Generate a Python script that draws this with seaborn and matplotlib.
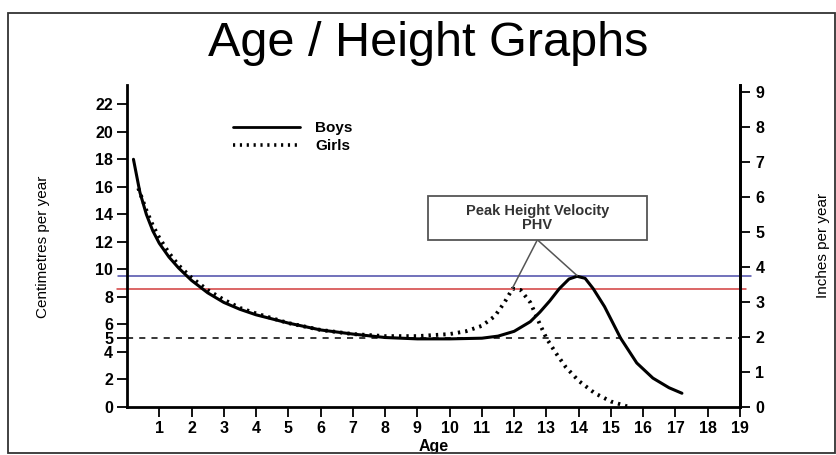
import matplotlib
matplotlib.use("Agg")
import matplotlib.pyplot as plt
import seaborn as sns
import pandas as pd
from matplotlib.patches import Rectangle
from matplotlib.lines import Line2D

# ---- data ----
boys_age = [0.2, 0.4, 0.6, 0.8, 1.0, 1.3, 1.6, 2.0, 2.5, 3.0, 3.5, 4.0, 5.0, 6.0, 7.0, 8.0, 9.0, 10.0,
            11.0, 11.5, 12.0, 12.5, 12.8, 13.1, 13.4, 13.7, 13.95, 14.2, 14.45, 14.8, 15.3, 15.8, 16.3, 16.8, 17.2]
boys_cm = [18.0, 15.6, 14.0, 12.8, 11.9, 10.9, 10.1, 9.2, 8.3, 7.6, 7.1, 6.7, 6.1, 5.6, 5.3, 5.05, 4.95, 4.95,
           5.0, 5.15, 5.5, 6.2, 6.9, 7.7, 8.6, 9.3, 9.5, 9.35, 8.6, 7.3, 5.0, 3.2, 2.1, 1.4, 1.0]
girls_age = [0.35, 0.6, 0.8, 1.0, 1.3, 1.6, 2.0, 2.5, 3.0, 3.5, 4.0, 5.0, 6.0, 7.0, 8.0, 9.0, 10.0, 10.5,
             11.0, 11.4, 11.7, 11.95, 12.2, 12.5, 12.8, 13.0, 13.3, 13.6, 14.0, 14.5, 15.0, 15.5]
girls_cm = [15.9, 14.3, 13.2, 12.3, 11.2, 10.3, 9.4, 8.5, 7.8, 7.2, 6.8, 6.1, 5.6, 5.3, 5.15, 5.15, 5.3, 5.5,
            5.9, 6.6, 7.6, 8.6, 8.5, 7.6, 6.0, 5.0, 3.9, 2.9, 1.9, 1.0, 0.4, 0.05]

boys_peak_line = 9.5    # blue reference line (cm/yr)
girls_peak_line = 8.6   # red reference line (cm/yr)
baseline_cm = 5.0       # dashed reference line (cm/yr)

x_ticks = list(range(1, 20))
y_ticks_cm = [0, 2, 4, 5, 6, 8, 10, 12, 14, 16, 18, 20, 22]
y_ticks_in = list(range(0, 10))

title = "Age / Height Graphs"
x_label = "Age"
y_label_left = "Centimetres per year"
y_label_right = "Inches per year"
annot_text = "Peak Height Velocity\nPHV"

boys_df = pd.DataFrame({"age": boys_age, "cm": boys_cm})
girls_df = pd.DataFrame({"age": girls_age, "cm": girls_cm})

sns.set_style("white")
plt.rcParams["font.family"] = ["Liberation Sans", "DejaVu Sans"]
plt.rcParams["text.color"] = "black"
plt.rcParams["xtick.color"] = "black"
plt.rcParams["ytick.color"] = "black"
plt.rcParams["axes.labelcolor"] = "black"

W, H = 837, 455
fig = plt.figure(figsize=(W / 100, H / 100), dpi=100)
ax = fig.add_axes([127 / W, (H - 407) / H, (740 - 127) / W, (407 - 85) / H])

ymax = 23.4
ax.set_xlim(0, 19)
ax.set_ylim(0, ymax)

# reference lines
ax.plot([-0.28, 19.35], [boys_peak_line] * 2, color="#4a4aa8", lw=1.1, clip_on=False, zorder=2)
ax.plot([-0.3, 19.2], [girls_peak_line] * 2, color="#d23c3c", lw=1.1, clip_on=False, zorder=2)
ax.plot([0, 19], [baseline_cm] * 2, color="black", lw=1.1, ls=(0, (4, 4)), zorder=2)

dotted = (0, (0.6, 1.3))
sns.lineplot(data=boys_df, x="age", y="cm", ax=ax, color="black", lw=2.2, sort=False, zorder=3)
sns.lineplot(data=girls_df, x="age", y="cm", ax=ax, color="black", lw=2.8, ls=dotted,
             sort=False, zorder=3)

# spines
ax.spines["top"].set_visible(False)
for s in ["left", "right", "bottom"]:
    ax.spines[s].set_linewidth(2.0)
    ax.spines[s].set_color("black")

tick_font = {"fontsize": 11.5, "fontweight": "bold"}
ax.set_xticks(x_ticks)
ax.set_xticklabels([str(t) for t in x_ticks], **tick_font)
ax.set_yticks(y_ticks_cm)
ax.set_yticklabels([str(t) for t in y_ticks_cm], **tick_font)
ax.tick_params(axis="both", direction="out", length=7, width=1.3, color="black", pad=3,
               bottom=True, left=True)
ax.set_xlabel(x_label, fontsize=11.5, fontweight="bold", labelpad=2)
ax.set_ylabel("")

ax2 = ax.twinx()
ax2.set_ylim(0, ymax / 2.54)
ax2.set_yticks(y_ticks_in)
ax2.set_yticklabels([str(t) for t in y_ticks_in], **tick_font)
ax2.tick_params(axis="y", direction="out", length=7, width=1.3, color="black", pad=4)
for s in ["top", "left", "bottom"]:
    ax2.spines[s].set_visible(False)
ax2.spines["right"].set_linewidth(2.0)
ax2.spines["right"].set_color("black")

# axis titles
fig.text(43 / W, 1 - 247 / H, y_label_left, rotation=90, ha="center", va="center", fontsize=11)
fig.text(823 / W, 1 - 245 / H, y_label_right, rotation=90, ha="center", va="center", fontsize=11)

# title
fig.text(428 / W, 1 - 43 / H, title, ha="center", va="center", fontsize=35)

# legend
leg_handles = [Line2D([], [], color="black", lw=2.0),
               Line2D([], [], color="black", lw=2.6, ls=dotted)]
ax.legend(leg_handles, ["Boys", "Girls"], loc="upper left", bbox_to_anchor=(0.15, 0.93),
          frameon=False, handlelength=4.4, handletextpad=1.0, labelspacing=0.25,
          prop={"size": 11, "weight": "bold"})

# annotation box and connectors
box_x0, box_x1 = 9.33, 16.12
box_y0, box_y1 = 12.15, 15.35
ax.add_patch(Rectangle((box_x0, box_y0), box_x1 - box_x0, box_y1 - box_y0, fc="white",
                       ec="#555555", lw=1.3, zorder=5))
ax.text((box_x0 + box_x1) / 2, (box_y0 + box_y1) / 2, annot_text, ha="center", va="center",
        fontsize=10.5, fontweight="bold", linespacing=1.05, color="#333333", zorder=6)
ax.annotate("", xy=(11.95, 8.65), xytext=(12.72, box_y0),
            arrowprops=dict(arrowstyle="-", color="#555555", lw=1.1, shrinkA=0, shrinkB=0), zorder=4)
ax.annotate("", xy=(13.95, 9.55), xytext=(12.72, box_y0),
            arrowprops=dict(arrowstyle="-", color="#555555", lw=1.1, shrinkA=0, shrinkB=0), zorder=4)

# outer frame
fig.patches.append(Rectangle((8 / W, 2 / H), 827 / W, (H - 13 - 2) / H, transform=fig.transFigure,
                             fill=False, ec="#333333", lw=1.3))

fig.savefig("out.png", dpi=100)
